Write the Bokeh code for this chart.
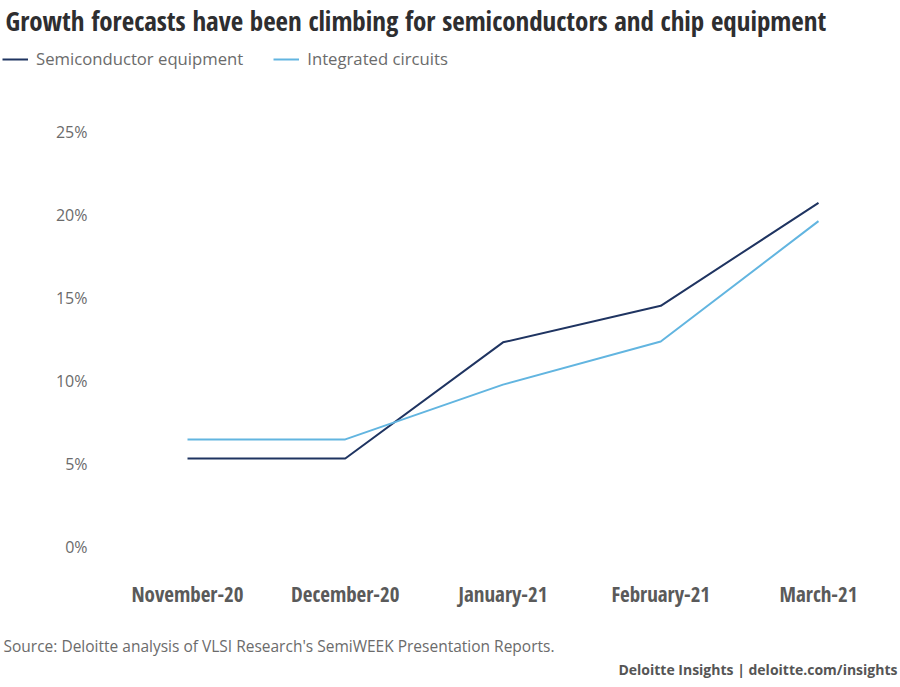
from bokeh.plotting import figure
from bokeh.models import Legend, LegendItem, Range1d, FixedTicker, Label
from bokeh.embed import file_html
from bokeh.resources import INLINE

# ---- data ----
months = ["November-20", "December-20", "January-21", "February-21", "March-21"]
semi_equipment = [5.3, 5.3, 12.3, 14.5, 20.7]
integrated_circuits = [6.45, 6.45, 9.75, 12.35, 19.6]
y_ticks = [0, 5, 10, 15, 20, 25]
y_tick_labels = ["0%", "5%", "10%", "15%", "20%", "25%"]

title_text = "Growth forecasts have been climbing for semiconductors and chip equipment"
source_text = "Source: Deloitte analysis of VLSI Research's SemiWEEK Presentation Reports."
footer_text = "Deloitte Insights | deloitte.com/insights"

COND = "'Open Sans Condensed', 'Roboto Condensed', 'Liberation Sans Narrow', sans-serif"
REG = "Open Sans"
NAVY = "#1f3461"
LIGHT = "#62b5e0"

# ---- layout (pixels) : the frame covers the whole figure ----
W, H = 900, 687
X0_PX, X4_PX = 187, 818        # pixel of first / last category
Y0_PX, Y25_PX = 546, 131       # pixel of 0% / 25%
XPX = (X4_PX - X0_PX) / 4.0
YPX = (Y0_PX - Y25_PX) / 25.0
X_START = -X0_PX / XPX
X_END = 4 + (W - X4_PX) / XPX
Y_START = -(H - Y0_PX) / YPX
Y_END = 25 + Y25_PX / YPX


def dx(px):
    return X_START + px / XPX


def dy(py):
    return Y_END - py / YPX


x_idx = list(range(len(months)))

p = figure(width=W, height=H, output_backend="svg", toolbar_location=None,
           x_range=Range1d(X_START, X_END), y_range=Range1d(Y_START, Y_END),
           min_border=0, min_border_left=0, min_border_right=0,
           min_border_top=0, min_border_bottom=0, outline_line_color=None)

r1 = p.line(x_idx, semi_equipment, line_color=NAVY, line_width=2)
r2 = p.line(x_idx, integrated_circuits, line_color=LIGHT, line_width=2)

p.xgrid.grid_line_color = None
p.ygrid.grid_line_color = None

xa = p.xaxis[0]
xa.fixed_location = dy(569)
xa.ticker = FixedTicker(ticks=x_idx)
xa.major_label_overrides = {i: m for i, m in zip(x_idx, months)}
xa.axis_line_color = None
xa.major_tick_line_color = None
xa.minor_tick_line_color = None
xa.major_tick_out = 0
xa.major_tick_in = 0
xa.major_label_text_font = COND
xa.major_label_text_font_style = "bold"
xa.major_label_text_font_size = "21px"
xa.major_label_text_color = "#5a5a5a"
xa.major_label_standoff = 10

ya = p.yaxis[0]
ya.fixed_location = dx(100)
ya.ticker = FixedTicker(ticks=y_ticks)
ya.major_label_overrides = {t: l for t, l in zip(y_ticks, y_tick_labels)}
ya.axis_line_color = None
ya.major_tick_line_color = None
ya.minor_tick_line_color = None
ya.major_tick_out = 0
ya.major_tick_in = 0
ya.major_label_text_font = REG
ya.major_label_text_font_size = "16px"
ya.major_label_text_color = "#6b6b6b"
ya.major_label_standoff = 13

legend = Legend(items=[LegendItem(label="Semiconductor equipment", renderers=[r1]),
                       LegendItem(label="Integrated circuits", renderers=[r2])],
                orientation="horizontal", location=(2, H - 70),
                label_text_font=REG, label_text_font_size="16.7px", label_text_color="#6b6b6b",
                glyph_width=26, glyph_height=20, label_height=20,
                label_standoff=8, spacing=30, padding=0, margin=0,
                border_line_color=None, background_fill_alpha=0)
p.add_layout(legend, "center")

p.add_layout(Label(x=dx(5), y=dy(20), text=title_text, text_font=COND,
                   text_font_style="bold", text_font_size="27px", text_color="#2e2e30",
                   text_align="left", text_baseline="alphabetic"))
p.add_layout(Label(x=dx(3), y=dy(645), text=source_text, text_font=REG,
                   text_font_size="15.5px", text_color="#6b6b6b",
                   text_align="left", text_baseline="alphabetic"))
p.add_layout(Label(x=dx(897), y=dy(669), text=footer_text, text_font=REG,
                   text_font_style="bold", text_font_size="14px", text_color="#555555",
                   text_align="right", text_baseline="alphabetic"))

open("out.html", "w").write(file_html(p, INLINE))
